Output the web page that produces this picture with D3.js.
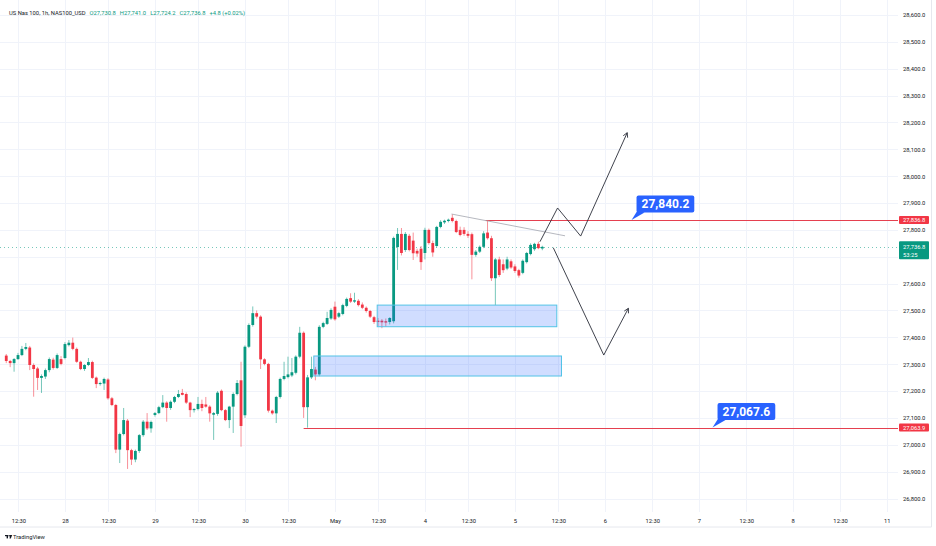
<!DOCTYPE html>
<html>
<head>
<meta charset="utf-8">
<script src="https://cdn.jsdelivr.net/npm/d3@7"></script>
<style>
  html, body { margin: 0; padding: 0; background: #fff; }
  svg { display: block; font-family: Roboto, "Liberation Sans", sans-serif; }
</style>
</head>
<body>
<div id="main"></div>
<script>
const ctx = {
    WIDTH: 936,
    HEIGHT: 546,
    PLOT_RIGHT: 898,
    PLOT_BOTTOM: 512,
    FRAME_RIGHT: 931.5,
    FRAME_BOTTOM: 527,
    UP: "#089981",
    DOWN: "#f23645",
    TEXT: "#131722",
    GRID: "#f0f3fa",
    FONT: 5.8,
};

// ---- data ----
const symbolTitle = "US Nas 100, 1h, NAS100_USD";
const countdown = "53:25";

// hourly candles, first one sits 15 bars before the "28" session
const firstBar = -15;
const candles = [
    [27332, 27338, 27304, 27312], [27312, 27316, 27289, 27304], [27304, 27323, 27272, 27319],
    [27319, 27342, 27316, 27334], [27334, 27368, 27330, 27357], [27357, 27379, 27352, 27364],
    [27362, 27368, 27278, 27297], [27297, 27303, 27179, 27282], [27284, 27290, 27204, 27249],
    [27249, 27262, 27193, 27256], [27254, 27284, 27245, 27278], [27278, 27325, 27270, 27319],
    [27317, 27324, 27280, 27286], [27286, 27340, 27282, 27334], [27319, 27330, 27296, 27301],
    // 28
    [27323, 27382, 27318, 27375], [27371, 27390, 27366, 27380], [27380, 27399, 27352, 27357],
    [27357, 27362, 27305, 27309], [27309, 27313, 27278, 27282], [27282, 27300, 27275, 27297],
    [27297, 27323, 27293, 27308], [27308, 27313, 27245, 27249], [27250, 27254, 27211, 27226],
    [27226, 27235, 27220, 27230], [27228, 27250, 27204, 27245], [27243, 27248, 27168, 27173],
    [27173, 27178, 27144, 27148], [27148, 27152, 26969, 26982], [26982, 27045, 26932, 27040],
    [27040, 27137, 27035, 27092], [27090, 27096, 26910, 26980], [26980, 26985, 26925, 26945],
    [26945, 26982, 26935, 26977], [26977, 27040, 26970, 27036], [27036, 27092, 27030, 27086],
    [27086, 27118, 27055, 27061], [27061, 27090, 27045, 27085],
    // 29
    [27111, 27122, 27105, 27118], [27118, 27145, 27114, 27140], [27140, 27185, 27136, 27157],
    [27157, 27162, 27086, 27137], [27137, 27165, 27130, 27160], [27160, 27182, 27155, 27178],
    [27178, 27204, 27174, 27189], [27193, 27208, 27184, 27186], [27189, 27195, 27152, 27157],
    [27157, 27160, 27103, 27129], [27129, 27137, 27120, 27133], [27133, 27178, 27128, 27152],
    [27152, 27168, 27125, 27137], [27150, 27178, 27138, 27142], [27142, 27147, 27086, 27117],
    [27112, 27122, 27018, 27118], [27115, 27200, 27108, 27194], [27201, 27206, 27125, 27129],
    [27129, 27133, 27088, 27092], [27092, 27145, 27062, 27142], [27142, 27195, 27044, 27189],
    [27189, 27241, 27184, 27230], [27240, 27309, 26993, 27070],
    // 30
    [27110, 27370, 27100, 27365], [27365, 27452, 27360, 27446], [27446, 27515, 27440, 27490],
    [27490, 27500, 27470, 27477], [27477, 27482, 27282, 27318], [27318, 27322, 27296, 27301],
    [27301, 27305, 27120, 27127], [27127, 27131, 27112, 27117], [27117, 27182, 27081, 27178],
    [27178, 27250, 27172, 27245], [27245, 27309, 27240, 27256], [27252, 27328, 27247, 27262],
    [27258, 27323, 27252, 27270], [27268, 27333, 27262, 27328], [27328, 27439, 27322, 27417],
    [27417, 27422, 27100, 27140], [27140, 27260, 27063.9, 27251], [27251, 27328, 27245, 27282],
    [27280, 27290, 27240, 27262], [27262, 27445, 27255, 27439], [27439, 27458, 27434, 27453],
    [27450, 27495, 27446, 27472], [27470, 27508, 27465, 27502],
    // May
    [27514, 27533, 27462, 27467], [27477, 27495, 27472, 27490], [27487, 27525, 27482, 27520],
    [27517, 27548, 27512, 27543], [27546, 27564, 27528, 27533], [27533, 27566, 27528, 27538],
    [27536, 27542, 27515, 27520], [27522, 27530, 27505, 27510], [27510, 27515, 27492, 27498],
    [27498, 27502, 27472, 27477], [27475, 27480, 27450, 27457], [27462, 27472, 27442, 27457],
    [27462, 27468, 27434, 27456], [27460, 27470, 27440, 27455], [27457, 27475, 27448, 27472],
    [27460, 27775, 27452, 27770], [27736, 27807, 27651, 27785], [27785, 27807, 27705, 27714],
    [27725, 27792, 27718, 27785], [27778, 27785, 27720, 27725], [27760, 27790, 27688, 27713],
    [27722, 27730, 27700, 27712], [27730, 27740, 27651, 27680],
    // 4
    [27714, 27808, 27690, 27800], [27800, 27805, 27745, 27751], [27751, 27760, 27700, 27716],
    [27740, 27815, 27735, 27811], [27811, 27836, 27806, 27830], [27828, 27838, 27822, 27834],
    [27833, 27842, 27828, 27838], [27845, 27858, 27828, 27833], [27833, 27838, 27788, 27792],
    [27800, 27812, 27776, 27781], [27800, 27810, 27778, 27785], [27785, 27795, 27770, 27778],
    [27784, 27790, 27616, 27707], [27707, 27725, 27700, 27719], [27719, 27742, 27714, 27737],
    [27737, 27795, 27732, 27787], [27790, 27836.8, 27764, 27769], [27769, 27778, 27610, 27620],
    [27620, 27695, 27520, 27690], [27690, 27700, 27625, 27632], [27672, 27690, 27640, 27650],
    [27656, 27700, 27650, 27690], [27683, 27690, 27655, 27660],
    // 5
    [27664, 27672, 27640, 27647], [27650, 27655, 27622, 27630], [27640, 27690, 27635, 27685],
    [27680, 27718, 27675, 27714], [27710, 27750, 27705, 27744], [27728, 27752, 27722, 27748],
    [27748, 27756, 27728, 27732], [27730.8, 27741.0, 27724.2, 27736.8],
];

// time axis: bar position of each label
const timeTickBars = [-11.9, 0, 11.1, 23, 34.1, 46, 57.1, 69, 80.1, 92, 103.1, 115,
    126.1, 138, 150.1, 162, 174.1, 186, 198.1, 210];
const timeTickLabels = ["12:30", "28", "12:30", "29", "12:30", "30", "12:30", "May", "12:30", "4",
    "12:30", "5", "12:30", "6", "12:30", "7", "12:30", "8", "12:30", "11"];

const priceTicks = [26800, 26900, 27000, 27100, 27200, 27300, 27400, 27500, 27600, 27700,
    27800, 27900, 28000, 28100, 28200, 28300, 28400, 28500, 28600];

// horizontal rays (start bar, price)
const levels = [
    { from: 107.5, price: 27836.8 },
    { from: 61, price: 27063.9 },
];

// demand boxes
const zones = [
    { from: 79.8, to: 125.7, top: 27520, bottom: 27439.5 },
    { from: 63.6, to: 126.9, top: 27330.5, bottom: 27256 },
];

const callouts = [
    { text: "27,840.2", bar: 144.8, price: 27836.8 },
    { text: "27,067.6", bar: 165.5, price: 27063.9 },
];

const trendLine = [[98.8, 27859], [127.8, 27778]];
const upScenario = [[121.4, 27756], [125.9, 27881.5], [131.8, 27777], [143.7, 28161.8]];
const downScenario = [[124.8, 27733.7], [137.7, 27334], [144.0, 27508]];

// ---- drawing ----
const fmtPrice = d3.format(",.1f");

function arrowHead(tip, from) {
    const ang = Math.atan2(tip[1] - from[1], tip[0] - from[0]);
    const len = 5, spread = 0.5;
    return [
        [tip[0] - len * Math.cos(ang - spread), tip[1] - len * Math.sin(ang - spread)],
        tip,
        [tip[0] - len * Math.cos(ang + spread), tip[1] - len * Math.sin(ang + spread)],
    ];
}

function createViz() {
    const svg = d3.select("#main").append("svg")
        .attr("width", ctx.WIDTH)
        .attr("height", ctx.HEIGHT);

    const x = d3.scaleLinear().domain([-16.6, 212.9]).range([0, ctx.PLOT_RIGHT]);
    const y = d3.scaleLinear().domain([26800, 28600]).range([498.5, 15]);

    const bars = candles.map((c, k) => ({
        bar: firstBar + k, open: c[0], high: c[1], low: c[2], close: c[3]
    }));
    const last = bars[bars.length - 1];
    const prev = bars[bars.length - 2];

    svg.append("clipPath").attr("id", "plot-clip")
        .append("rect").attr("width", ctx.PLOT_RIGHT).attr("height", ctx.PLOT_BOTTOM);

    // grid
    const grid = svg.append("g").attr("shape-rendering", "crispEdges")
        .attr("stroke", ctx.GRID).attr("stroke-width", 1);
    grid.selectAll(".vg").data(timeTickBars).enter().append("line")
        .attr("x1", d => Math.round(x(d)) + 0.5).attr("x2", d => Math.round(x(d)) + 0.5)
        .attr("y1", 0).attr("y2", ctx.PLOT_BOTTOM);
    grid.selectAll(".hg").data(priceTicks).enter().append("line")
        .attr("x1", 0).attr("x2", ctx.PLOT_RIGHT)
        .attr("y1", d => Math.round(y(d)) + 0.5).attr("y2", d => Math.round(y(d)) + 0.5);

    // frame
    svg.append("path")
        .attr("d", `M0,${ctx.FRAME_BOTTOM}H${ctx.FRAME_RIGHT}V0`)
        .attr("fill", "none").attr("stroke", "#e6e8ee").attr("stroke-width", 1);

    const plot = svg.append("g").attr("clip-path", "url(#plot-clip)");

    // current price line
    plot.append("line")
        .attr("x1", 0).attr("x2", ctx.PLOT_RIGHT)
        .attr("y1", Math.round(y(last.close)) + 0.5).attr("y2", Math.round(y(last.close)) + 0.5)
        .attr("stroke", ctx.UP).attr("stroke-width", 1).attr("stroke-opacity", 0.55)
        .attr("stroke-dasharray", "1,3");

    // candles
    const bodyW = 2.8;
    const col = d => d.close >= d.open ? ctx.UP : ctx.DOWN;
    const candle = plot.selectAll(".candle").data(bars).enter().append("g").attr("class", "candle");
    candle.append("line")
        .attr("x1", d => x(d.bar)).attr("x2", d => x(d.bar))
        .attr("y1", d => y(d.high)).attr("y2", d => y(d.low))
        .attr("stroke", col).attr("stroke-width", 1).attr("stroke-opacity", 0.55);
    candle.append("rect")
        .attr("x", d => x(d.bar) - bodyW / 2)
        .attr("y", d => y(Math.max(d.open, d.close)))
        .attr("width", bodyW)
        .attr("height", d => Math.max(1, Math.abs(y(d.open) - y(d.close))))
        .attr("fill", col);

    // zones
    plot.selectAll(".zone").data(zones).enter().append("rect")
        .attr("x", d => x(d.from)).attr("y", d => y(d.top))
        .attr("width", d => x(d.to) - x(d.from))
        .attr("height", d => y(d.bottom) - y(d.top))
        .attr("fill", "rgba(41, 98, 255, 0.22)")
        .attr("stroke", "#52c3e6").attr("stroke-width", 1);

    // levels
    plot.selectAll(".level").data(levels).enter().append("line")
        .attr("x1", d => x(d.from)).attr("x2", ctx.PLOT_RIGHT)
        .attr("y1", d => Math.round(y(d.price)) + 0.5).attr("y2", d => Math.round(y(d.price)) + 0.5)
        .attr("stroke", "#e5404f").attr("stroke-width", 1);

    // trend line
    plot.append("line")
        .attr("x1", x(trendLine[0][0])).attr("y1", y(trendLine[0][1]))
        .attr("x2", x(trendLine[1][0])).attr("y2", y(trendLine[1][1]))
        .attr("stroke", "#a3a6af").attr("stroke-width", 0.8);

    // scenario arrows
    const line = d3.line().x(d => x(d[0])).y(d => y(d[1]));
    [upScenario, downScenario].forEach(path => {
        plot.append("path").attr("d", line(path))
            .attr("fill", "none").attr("stroke", "#2a2e39").attr("stroke-width", 0.9);
        const pts = path.map(p => [x(p[0]), y(p[1])]);
        const head = arrowHead(pts[pts.length - 1], pts[pts.length - 2]);
        plot.append("path").attr("d", d3.line()(head))
            .attr("fill", "none").attr("stroke", "#2a2e39").attr("stroke-width", 0.9);
    });

    // callouts
    callouts.forEach(c => {
        const tipX = x(c.bar), tipY = y(c.price);
        const g = svg.append("g");
        const txt = g.append("text")
            .attr("font-size", 12).attr("font-weight", "bold").attr("fill", "#fff")
            .text(c.text);
        const w = txt.node().getComputedTextLength() + 10;
        const left = tipX + 5, bottom = tipY - 7.5, h = 17;
        g.insert("path", "text")
            .attr("d", `M${left + 1},${bottom - 2}L${left + 8},${bottom}L${tipX},${tipY}Z`)
            .attr("fill", "#2962ff");
        g.insert("rect", "text")
            .attr("x", left).attr("y", bottom - h).attr("width", w).attr("height", h)
            .attr("rx", 2).attr("fill", "#2962ff");
        txt.attr("x", left + 5).attr("y", bottom - h / 2).attr("dy", "0.36em");
    });

    // price tags on the axis: pixel spans, axis labels under them are hidden
    const cy = y(last.close);
    const tagSpans = levels.map(l => [y(l.price) - 4, y(l.price) + 4])
        .concat([[cy - 5.5, cy + 12.5]]);
    const shownTicks = priceTicks.filter(p => {
        const py = y(p);
        return tagSpans.every(s => py < s[0] - 3.5 || py > s[1] + 3.5);
    });
    const yAxis = svg.append("g")
        .attr("transform", `translate(${ctx.PLOT_RIGHT},0)`)
        .call(d3.axisRight(y).tickValues(shownTicks).tickFormat(fmtPrice).tickSize(0).tickPadding(5));
    yAxis.select(".domain").remove();
    yAxis.selectAll("text").attr("font-size", ctx.FONT).attr("fill", ctx.TEXT)
        .attr("font-family", "Roboto, 'Liberation Sans', sans-serif");

    // time axis
    const xAxis = svg.append("g")
        .attr("transform", `translate(0,${ctx.PLOT_BOTTOM})`)
        .call(d3.axisBottom(x).tickValues(timeTickBars)
            .tickFormat((d, i) => timeTickLabels[i]).tickSize(0).tickPadding(7));
    xAxis.select(".domain").remove();
    xAxis.selectAll("text").attr("font-size", ctx.FONT).attr("fill", ctx.TEXT)
        .attr("font-family", "Roboto, 'Liberation Sans', sans-serif");

    levels.forEach(l => {
        const ly = y(l.price);
        svg.append("rect").attr("x", 899).attr("y", ly - 4).attr("width", 30).attr("height", 8)
            .attr("rx", 1).attr("fill", ctx.DOWN);
        svg.append("text").attr("x", 903).attr("y", ly).attr("dy", "0.35em")
            .attr("font-size", ctx.FONT).attr("fill", "#fff").text(fmtPrice(l.price));
    });
    svg.append("rect").attr("x", 899).attr("y", cy - 5.5).attr("width", 30).attr("height", 18)
        .attr("rx", 1).attr("fill", ctx.UP);
    svg.append("text").attr("x", 903).attr("y", cy).attr("dy", "0.35em")
        .attr("font-size", ctx.FONT).attr("fill", "#fff").text(fmtPrice(last.close));
    svg.append("text").attr("x", 903).attr("y", cy + 8.2).attr("dy", "0.35em")
        .attr("font-size", ctx.FONT).attr("fill", "#fff").text(countdown);

    // header legend
    const change = last.close - prev.close;
    const header = svg.append("text").attr("x", 9).attr("y", 15.3)
        .attr("font-size", ctx.FONT).attr("fill", ctx.TEXT);
    header.append("tspan").text(symbolTitle);
    [["O", last.open], ["H", last.high], ["L", last.low], ["C", last.close]].forEach(p => {
        header.append("tspan").attr("dx", 4).attr("fill", ctx.UP).text(p[0] + fmtPrice(p[1]));
    });
    header.append("tspan").attr("dx", 4).attr("fill", ctx.UP)
        .text(`${d3.format("+.1f")(change)} (${d3.format("+.2%")(change / prev.close)})`);

    // TradingView watermark
    const logo = svg.append("g").attr("fill", ctx.TEXT);
    logo.append("rect").attr("x", 5).attr("y", 535).attr("width", 3.2).attr("height", 1.2);
    logo.append("rect").attr("x", 6.6).attr("y", 535).attr("width", 1.4).attr("height", 3.4);
    logo.append("circle").attr("cx", 9.2).attr("cy", 535.7).attr("r", 0.7);
    logo.append("path").attr("d", "M9.9,535H12.2L10.8,538.4H9.6Z");
    svg.append("text").attr("x", 13).attr("y", 538.6)
        .attr("font-size", ctx.FONT).attr("fill", ctx.TEXT).text("TradingView");
}

createViz();
</script>
</body>
</html>
